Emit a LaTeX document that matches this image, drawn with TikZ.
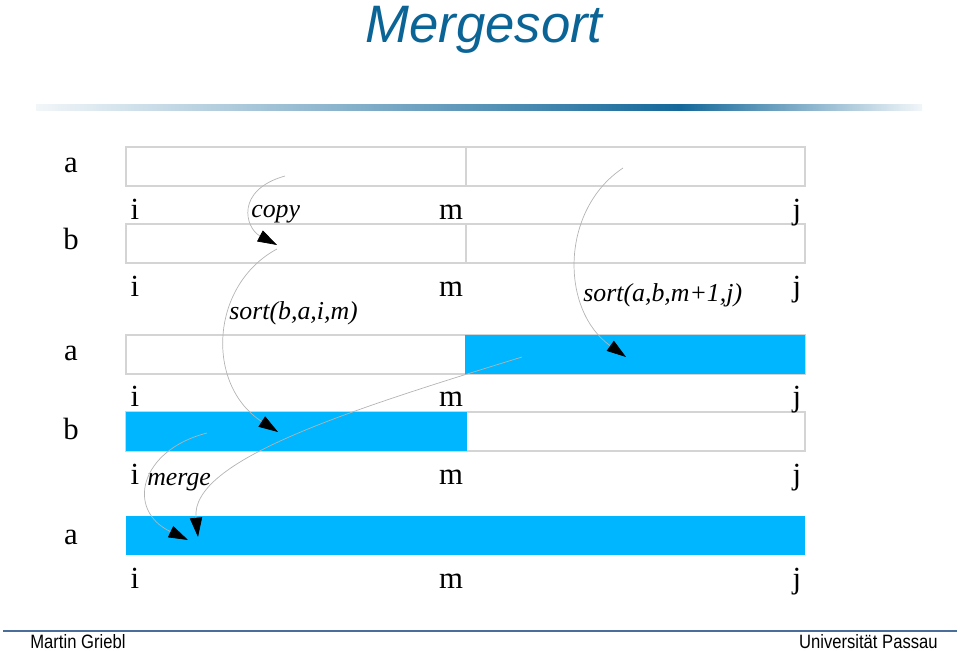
\documentclass[tikz,border=0pt]{standalone}
\usepackage{fontspec}
\setmainfont{Liberation Serif}
\newfontfamily\slidesans{Liberation Sans}
\newfontfamily\slidenarrow[FakeStretch=0.86]{Liberation Sans}
\usetikzlibrary{arrows.meta}
\definecolor{MSTitle}{HTML}{0B6496}
\definecolor{MSCyan}{HTML}{00B6FF}
\definecolor{MSGrid}{HTML}{D4D4D4}
\definecolor{MSCurve}{HTML}{B4B4B4}
\definecolor{MSBar}{HTML}{14689A}
\definecolor{MSBarLight}{HTML}{F2F6F9}
\definecolor{MSRule}{HTML}{4A6E9C}

\begin{document}
\begin{tikzpicture}[x=0.02cm,y=-0.02cm,
  idx/.style={anchor=base,font=\fontsize{17.5}{20}\selectfont},
  lbl/.style={anchor=base west,inner sep=0pt,font=\fontsize{14.7}{17}\selectfont\itshape},
  foot/.style={inner sep=0pt,font=\slidenarrow\fontsize{11}{13}\selectfont},
  flow/.style={draw=MSCurve,line width=0.4pt,-{Triangle[length=11pt,width=7pt,color=black,fill=black]}},
  cell/.style={draw=MSGrid,line width=0.6pt}]
\path[use as bounding box] (0,0) rectangle (960,651);
% title and bar
\node[anchor=base,text=MSTitle,font=\slidesans\fontsize{30}{34}\selectfont\itshape] (ttl) at (484,43) {Mergesort};
\shade[left color=MSBarLight,right color=MSBar] (36,105) rectangle (680,111);
\shade[left color=MSBar,right color=MSBarLight] (680,105) rectangle (922,111);
% arrays
\draw[cell] (126,147) rectangle (805,186);
\draw[cell] (466,147) -- (466,186);
\draw[cell] (126,224) rectangle (805,263);
\draw[cell] (466,224) -- (466,263);
\draw[cell] (126,335) rectangle (805,374);
\fill[MSCyan] (465,335) rectangle (805,374);
\draw[cell] (126,412) rectangle (805,451);
\fill[MSCyan] (126,412) rectangle (467,451);
\fill[MSCyan] (126,516) rectangle (805,555);
% array names
\node[idx] (nameA1) at (71,173) {a};
\node[idx] (nameB1) at (71,250) {b};
\node[idx] (nameA2) at (71,361) {a};
\node[idx] (nameB2) at (71,440) {b};
\node[idx] (nameA3) at (71,544) {a};
% bounds
\node[idx] (lowA1) at (135,220) {i};
\node[idx] (midA1) at (451,220) {m};
\node[idx] (upA1) at (797,220) {j};
\node[idx] (lowB1) at (135,297) {i};
\node[idx] (midB1) at (451,297) {m};
\node[idx] (upB1) at (797,297) {j};
\node[idx] (lowA2) at (135,407) {i};
\node[idx] (midA2) at (451,407) {m};
\node[idx] (upA2) at (797,407) {j};
\node[idx] (lowB2) at (135,485) {i};
\node[idx] (midB2) at (451,485) {m};
\node[idx] (upB2) at (797,485) {j};
\node[idx] (lowA3) at (135,588) {i};
\node[idx] (midA3) at (451,588) {m};
\node[idx] (upA3) at (797,588) {j};
% steps
\node[lbl] (copyLbl) at (251,218) {copy};
\node[lbl] (sortLLbl) at (229,320) {sort(b,a,i,m)};
\node[lbl] (sortRLbl) at (583,302) {sort(a,b,m+1,j)};
\node[lbl] (mergeLbl) at (147,486) {merge};
\coordinate (copyS) at (285,176);
\coordinate (copyE) at (277,245);
\coordinate (sortLS) at (277,249);
\coordinate (sortLE) at (278,432);
\coordinate (sortRS) at (623,168);
\coordinate (sortRE) at (626,357);
\coordinate (mrgLS) at (207,433);
\coordinate (mrgLE) at (188,540);
\coordinate (mrgRS) at (522,357);
\coordinate (mrgRE) at (198,537);
\draw[flow] (copyS) .. controls (235,190) and (245,228) .. (copyE);
\draw[flow] (sortLS) .. controls (210,285) and (205,385) .. (sortLE);
\draw[flow] (sortRS) .. controls (560,210) and (560,310) .. (sortRE);
\draw[flow] (mrgLS) .. controls (140,450) and (125,510) .. (mrgLE);
\draw[flow] (mrgRS) .. controls (350,410) and (190,460) .. (mrgRE);
% footer
\draw[MSRule,line width=1.2pt] (3,631) -- (957,631);
\node[foot,anchor=base west] (author) at (30,648) {Martin Griebl};
\node[foot,anchor=base east] (univ) at (938,648) {Universität Passau};
\end{tikzpicture}
\end{document}
